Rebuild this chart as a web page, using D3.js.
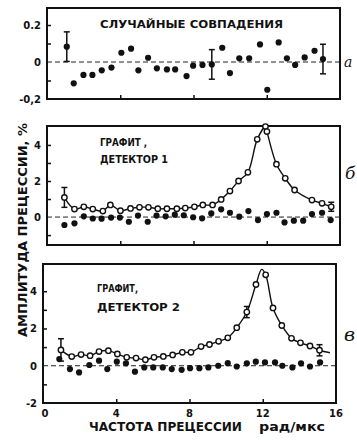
<!DOCTYPE html>
<html>
<head>
<meta charset="utf-8">
<script src="https://cdn.jsdelivr.net/npm/d3@7"></script>
<style>
body { margin: 0; background: #fff; }
svg text { font-family: "DejaVu Sans", sans-serif; font-weight: bold; fill: #111; }
svg text.tag { font-family: "DejaVu Serif", serif; font-style: italic; font-weight: normal; }
</style>
</head>
<body>
<svg id="chart" width="357" height="440"></svg>
<script>
// panel a: random coincidences
var aX = [1.08, 1.46, 1.99, 2.48, 2.99, 3.52, 4.06, 4.59, 4.99, 5.52, 6.0, 6.55, 7.0, 7.62, 7.98,
          8.49, 9.0, 9.57, 9.99, 10.5, 11.04, 11.63, 12.03, 12.65, 13.1, 13.55, 14.07, 14.61, 15.07];
var aY = [0.083, -0.115, -0.07, -0.07, -0.045, -0.03, 0.05, 0.072, -0.045, 0.023, -0.034, -0.04, -0.04, -0.076, -0.02,
          -0.016, -0.013, 0.077, -0.06, 0.02, 0.02, 0.095, -0.15, 0.106, 0.02, -0.016, 0.025, 0.061, 0.016];
var aErrIdx = [0, 16, 28];
var aErr = [0.08, 0.08, 0.08];

// panel b: graphite, detector 1
var bOpenX = [0.95, 1.5, 2.01, 2.5, 3.05, 3.46, 4.01, 4.56, 5.05, 5.54, 6.05, 6.55, 7.09, 7.55, 8.05,
              8.51, 9.04, 9.51, 9.99, 10.46, 10.97, 11.48, 11.93, 12.01, 12.53, 13.01, 13.52, 14.47, 15.02, 15.52];
var bOpenY = [1.09, 0.44, 0.57, 0.44, 0.33, 0.67, 0.35, 0.48, 0.54, 0.54, 0.46, 0.46, 0.46, 0.5, 0.57,
              0.67, 0.67, 0.98, 1.44, 2.0, 2.48, 4.31, 5.02, 4.74, 2.93, 2.15, 1.5, 0.94, 0.76, 0.57];
var bFilledX = [0.95, 1.5, 2.01, 2.5, 2.98, 3.5, 3.98, 4.47, 4.97, 5.5, 5.98, 6.48, 6.98, 7.47, 7.98,
                8.47, 8.97, 9.51, 9.99, 10.5, 11.0, 11.52, 12.01, 12.53, 12.97, 13.48, 13.99, 14.47, 15.02, 15.49];
var bFilledY = [-0.44, -0.35, 0.04, -0.08, -0.09, -0.03, -0.03, -0.26, 0.08, -0.26, 0.08, 0.04, 0.13, 0.1, -0.01,
                -0.07, 0.2, 0.43, 0.24, 0.02, 0.33, -0.17, 0.17, 0.24, -0.3, -0.2, -0.2, 0.17, 0.24, -0.17];
var bErrIdx = [0, 29];
var bErr = [0.55, 0.25];

// panel c: graphite, detector 2
var cOpenX = [0.98, 1.57, 2.08, 2.57, 3.06, 3.57, 4.06, 4.57, 5.08, 5.59, 6.06, 6.57, 7.08, 7.61, 8.08,
              8.63, 9.09, 9.59, 10.09, 10.58, 11.13, 11.63, 12.16, 12.56, 13.04, 13.57, 14.06, 14.58, 15.1];
var cOpenY = [0.85, 0.49, 0.6, 0.54, 0.76, 0.81, 0.63, 0.45, 0.41, 0.32, 0.45, 0.5, 0.58, 0.72, 0.72,
              1.03, 1.14, 1.31, 1.5, 2.04, 2.88, 4.36, 4.88, 3.1, 2.16, 1.47, 1.23, 1.06, 0.83];
var cFilledX = [0.89, 1.47, 1.97, 2.53, 3.06, 3.51, 4.03, 4.53, 5.02, 5.53, 6.02, 6.54, 7.03, 7.57, 8.03,
                8.54, 9.03, 9.57, 10.09, 10.58, 11.13, 11.62, 12.12, 12.67, 13.07, 13.62, 14.09, 14.58, 15.13];
var cFilledY = [0.36, -0.18, -0.36, 0.04, 0.27, -0.18, 0.22, 0.13, -0.32, -0.09, -0.09, -0.09, -0.18, -0.22, -0.13,
                -0.13, -0.09, 0, 0.14, -0.04, 0.13, 0.22, 0.18, 0.18, 0, -0.09, 0.13, -0.04, 0.18];
var cErrIdx = [0, 20, 28];
var cErr = [0.6, 0.3, 0.3];
// extra knots of the fitted curve (peak top and tail end)
var cFitX = [11.94, 15.67];
var cFitY = [5.17, 0.7];

var xTicks = [0, 4, 8, 12, 16];

var svg = d3.select('#chart');

function zip(xs, ys) {
    return xs.map(function(x, i) { return {x: x, y: ys[i]}; });
}

function drawPanel(p) {
    var x = d3.scaleLinear().domain([0, 16]).range([p.left, p.right]);
    var y = d3.scaleLinear().domain(p.yDomain).range([p.bottom, p.top]);
    var g = svg.append('g');

    // zero line
    g.append('line')
        .attr('x1', p.left).attr('x2', p.right + (p.zeroExt || 0))
        .attr('y1', y(0)).attr('y2', y(0))
        .attr('stroke', '#222').attr('stroke-width', 1)
        .attr('stroke-dasharray', '5,3');

    // inward ticks
    var yt = g.append('g')
        .attr('transform', 'translate(' + p.left + ',0)')
        .call(d3.axisLeft(y).tickValues(p.yTicks).tickSize(-4).tickFormat(''));
    yt.select('.domain').remove();
    yt.selectAll('line').attr('stroke', '#111').attr('stroke-width', 1.5);

    var xt = g.append('g')
        .attr('transform', 'translate(0,' + p.bottom + ')')
        .call(d3.axisBottom(x).tickValues([4, 8, 12]).tickSize(-4).tickFormat(''));
    xt.select('.domain').remove();
    xt.selectAll('line').attr('stroke', '#111').attr('stroke-width', 1.5);

    // tick labels
    g.selectAll('.ylab')
        .data(p.yLabels)
        .enter()
        .append('text')
        .attr('x', p.left - 6)
        .attr('y', function(d) { return y(d.v) + 4; })
        .attr('text-anchor', 'end')
        .attr('font-size', 10)
        .text(function(d) { return d.t; });

    // frame
    g.append('rect')
        .attr('x', p.left).attr('y', p.top)
        .attr('width', p.right - p.left).attr('height', p.bottom - p.top)
        .attr('fill', 'none').attr('stroke', '#111').attr('stroke-width', 2);

    // fitted curve
    if (p.fit) {
        var line = d3.line()
            .x(function(d) { return x(d.x); })
            .y(function(d) { return y(d.y); })
            .curve(d3.curveCatmullRom.alpha(0.5));
        g.append('path')
            .datum(p.fit)
            .attr('d', line)
            .attr('fill', 'none').attr('stroke', '#111').attr('stroke-width', 1.4);
    }

    // error bars
    p.errs.forEach(function(e) {
        var d = e.pt;
        g.append('line')
            .attr('x1', x(d.x)).attr('x2', x(d.x))
            .attr('y1', y(d.y - e.s)).attr('y2', y(d.y + e.s))
            .attr('stroke', '#111').attr('stroke-width', 1.5);
        [d.y - e.s, d.y + e.s].forEach(function(v) {
            g.append('line')
                .attr('x1', x(d.x) - 3).attr('x2', x(d.x) + 3)
                .attr('y1', y(v)).attr('y2', y(v))
                .attr('stroke', '#111').attr('stroke-width', 1.5);
        });
    });

    g.selectAll('.dot')
        .data(p.filled)
        .enter()
        .append('circle')
        .attr('cx', function(d) { return x(d.x); })
        .attr('cy', function(d) { return y(d.y); })
        .attr('r', 3.1)
        .attr('fill', '#111');

    if (p.open) {
        g.selectAll('.odot')
            .data(p.open)
            .enter()
            .append('circle')
            .attr('cx', function(d) { return x(d.x); })
            .attr('cy', function(d) { return y(d.y); })
            .attr('r', 2.7)
            .attr('fill', '#fff')
            .attr('stroke', '#111')
            .attr('stroke-width', 1.4);
    }

    // letter on the right
    g.append('text')
        .attr('class', 'tag')
        .attr('x', p.tagX).attr('y', p.tagY)
        .attr('font-size', p.tagSize)
        .text(p.tag);

    return {x: x, y: y};
}

var aPts = zip(aX, aY);
drawPanel({
    left: 47, right: 340, top: 8, bottom: 99,
    yDomain: [-0.2, 0.292],
    yTicks: [-0.1, 0.1, 0.2],
    yLabels: [{v: 0.2, t: '0.2'}, {v: 0, t: '0'}, {v: -0.2, t: '-0,2'}],
    zeroExt: 3,
    filled: aPts,
    errs: aErrIdx.map(function(k, i) { return {pt: aPts[k], s: aErr[i]}; }),
    tag: 'а', tagX: 344, tagY: 67, tagSize: 14
});

var bOpen = zip(bOpenX, bOpenY);
drawPanel({
    left: 47, right: 340, top: 126, bottom: 245,
    yDomain: [-1.55, 5.05],
    yTicks: [-1, 1, 2, 3, 4],
    yLabels: [{v: 4, t: '4'}, {v: 2, t: '2'}, {v: 0, t: '0'}],
    filled: zip(bFilledX, bFilledY),
    open: bOpen,
    fit: bOpen,
    errs: bErrIdx.map(function(k, i) { return {pt: bOpen[k], s: bErr[i]}; }),
    tag: 'б', tagX: 345, tagY: 179, tagSize: 17
});

var cOpen = zip(cOpenX, cOpenY);
var cFit = cOpen.concat(zip(cFitX, cFitY)).sort(function(a, b) { return a.x - b.x; });
var cs = drawPanel({
    left: 43, right: 336, top: 264, bottom: 403,
    yDomain: [-2, 5.46],
    yTicks: [-1, 1, 2, 3, 4],
    yLabels: [{v: 4, t: '4'}, {v: 2, t: '2'}, {v: 0, t: '0'}, {v: -2, t: '-2'}],
    filled: zip(cFilledX, cFilledY),
    open: cOpen,
    fit: cFit,
    errs: cErrIdx.map(function(k, i) { return {pt: cOpen[k], s: cErr[i]}; }),
    tag: 'в', tagX: 344, tagY: 341, tagSize: 19
});

// x tick labels under the bottom panel
svg.selectAll('.xlab')
    .data(xTicks)
    .enter()
    .append('text')
    .attr('x', function(d) { return cs.x(d) + (d === 0 ? 2 : 0); })
    .attr('y', 417)
    .attr('text-anchor', 'middle')
    .attr('font-size', 10)
    .text(function(d) { return d; });

// annotations
svg.append('text').attr('x', 100).attr('y', 28).attr('font-size', 10)
    .attr('textLength', 183).attr('lengthAdjust', 'spacingAndGlyphs')
    .text('СЛУЧАЙНЫЕ  СОВПАДЕНИЯ');

svg.append('text').attr('x', 100).attr('y', 146).attr('font-size', 10)
    .attr('textLength', 47).attr('lengthAdjust', 'spacingAndGlyphs')
    .text('ГРАФИТ ,');
svg.append('text').attr('x', 100).attr('y', 163).attr('font-size', 10)
    .attr('textLength', 68).attr('lengthAdjust', 'spacingAndGlyphs')
    .text('ДЕТЕКТОР 1');

svg.append('text').attr('x', 97).attr('y', 292).attr('font-size', 10)
    .attr('textLength', 41).attr('lengthAdjust', 'spacingAndGlyphs')
    .text('ГРАФИТ,');
svg.append('text').attr('x', 97).attr('y', 311).attr('font-size', 10)
    .attr('textLength', 83).attr('lengthAdjust', 'spacingAndGlyphs')
    .text('ДЕТЕКТОР 2');

// axis titles
svg.append('text').attr('x', 89).attr('y', 431).attr('font-size', 12)
    .attr('textLength', 153).attr('lengthAdjust', 'spacingAndGlyphs')
    .text('ЧАСТОТА  ПРЕЦЕССИИ');
svg.append('text').attr('x', 259).attr('y', 431).attr('font-size', 12)
    .attr('textLength', 66).attr('lengthAdjust', 'spacingAndGlyphs')
    .text('рад/мкс');

svg.append('text')
    .attr('transform', 'translate(27,337) rotate(-90)')
    .attr('font-size', 12)
    .attr('textLength', 214).attr('lengthAdjust', 'spacingAndGlyphs')
    .text('АМПЛИТУДА  ПРЕЦЕССИИ, %');
</script>
</body>
</html>
